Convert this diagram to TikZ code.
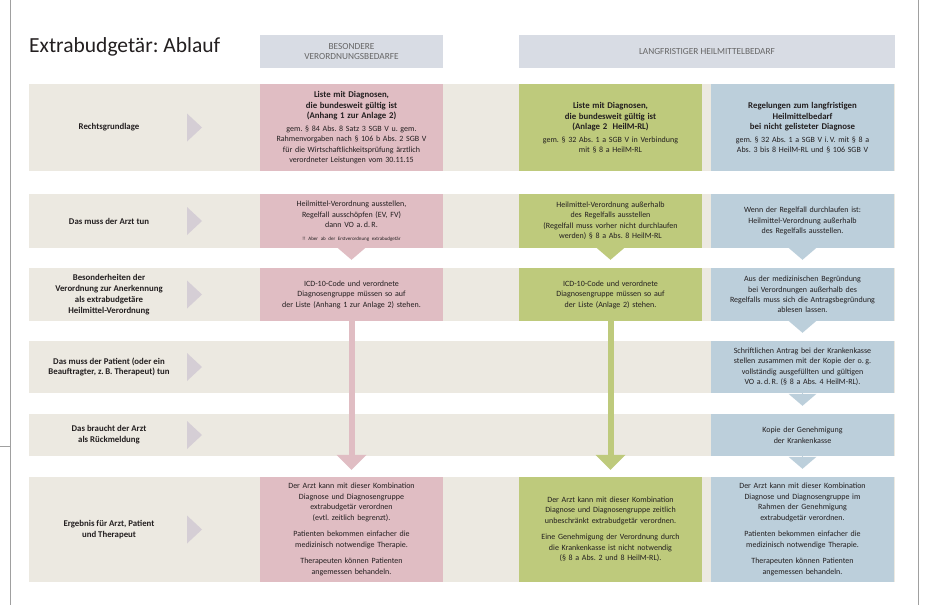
\documentclass[tikz,border=0pt]{standalone}
\usepackage{fontspec}
\setmainfont{Carlito}
\usetikzlibrary{arrows.meta,positioning,calc}

\definecolor{rosa}{RGB}{224,189,195}
\definecolor{gruen}{RGB}{190,202,124}
\definecolor{blau}{RGB}{188,207,219}
\definecolor{beige}{RGB}{236,233,225}
\definecolor{kopf}{RGB}{216,220,228}
\definecolor{zeiger}{RGB}{213,206,213}
\definecolor{rahmen}{RGB}{160,160,160}
\definecolor{schrift}{RGB}{35,31,32}

\newcommand{\fett}[1]{{\fontsize{8.8}{10.8}\selectfont\bfseries #1}}
\frenchspacing

\begin{document}
\begin{tikzpicture}[x=1pt, y=-1pt,
    band/.style={fill=beige, minimum width=866pt, inner sep=0pt},
    lbl/.style={align=center, text=schrift, font=\fontsize{8.8}{10.8}\selectfont\bfseries},
    cell/.style={minimum width=183pt, text width=178pt, inner sep=0pt, align=center, text=schrift, font=\fontsize{8}{10.5}\selectfont},
    head/.style={fill=kopf, minimum height=33pt, inner sep=0pt, align=center, text=black!60, font=\fontsize{9.3}{10.5}\selectfont},
    notch/.style={-{Triangle[width=28pt,length=12pt,line width=0pt]}, line width=0.1pt, shorten >=8pt},
    stem/.style={-{Triangle[width=30pt,length=15pt,line width=0pt]}, line width=6pt, shorten >=7pt}
]
\useasboundingbox (0,0) rectangle (926,605);

% Rahmen
\draw[rahmen, line width=0.8pt] (10,0) -- (10,605);
\draw[rahmen, line width=0.8pt] (918,0) -- (918,605);
\draw[rahmen, line width=0.8pt] (0,446) -- (10,446);

% Titel und Spaltenkoepfe
\node[anchor=west, inner sep=0pt, text=schrift, font=\fontsize{21.5}{24}\selectfont] (titel) at (29,47) {Extrabudgetär: Ablauf};
\node[head, minimum width=183pt] (h1) at (351.5,51.5) {BESONDERE\\VERORDNUNGSBEDARFE};
\node[head, minimum width=376pt] (h2) at (707,51.5) {LANGFRISTIGER HEILMITTELBEDARF};

% Zeilenbaender
\foreach \n/\y/\h in {1/127.5/87, 2/221/54, 3/294.5/53, 4/367/52, 5/435/42, 6/529.5/105} {
  \node[band, minimum height=\h] (r\n) at (462,\y) {};
  \fill[zeiger] (187,\y-14) -- (202,\y) -- (187,\y+14) -- cycle;
}

% Zeilentitel
\node[lbl] (l1) at (109,127.5) {Rechtsgrundlage};
\node[lbl] (l2) at (109,221) {Das muss der Arzt tun};
\node[lbl] (l3) at (109,294.5) {Besonderheiten der\\Verordnung zur Anerkennung\\als extrabudgetäre\\Heilmittel-Verordnung};
\node[lbl] (l4) at (109,367) {Das muss der Patient (oder ein\\Beauftragter, z.\,B. Therapeut) tun};
\node[lbl] (l5) at (109,435) {Das braucht der Arzt\\als Rückmeldung};
\node[lbl] (l6) at (109,529.5) {Ergebnis für Arzt, Patient\\und Therapeut};

% Besondere Verordnungsbedarfe
\node[cell, fill=rosa, minimum height=87] (p1) at (351.5,127.5) {\fett{Liste mit Diagnosen,\\die bundesweit gültig ist\\(Anhang 1 zur Anlage 2)}\\[2pt]gem. § 84 Abs. 8 Satz 3 SGB V u. gem.\\Rahmenvorgaben nach § 106 b Abs. 2 SGB V\\für die Wirtschaftlichkeitsprüfung ärztlich\\verordneter Leistungen vom 30.11.15};
\node[cell, fill=rosa, minimum height=54] (p2) at (351.5,221) {Heilmittel-Verordnung ausstellen,\\Regelfall ausschöpfen (EV, FV)\\dann VO a.\,d.\,R.\\[2pt]{\fontsize{5}{6}\selectfont !! Aber ab der Erstverordnung extrabudgetär}};
\node[cell, fill=rosa, minimum height=53] (p3) at (351.5,294.5) {ICD-10-Code und verordnete\\Diagnosengruppe müssen so auf\\der Liste (Anhang 1 zur Anlage 2) stehen.};
\node[cell, fill=rosa, minimum height=105] (p6) at (351.5,529.5) {Der Arzt kann mit dieser Kombination\\Diagnose und Diagnosengruppe\\extrabudgetär verordnen\\(evtl. zeitlich begrenzt).\\[6pt]Patienten bekommen einfacher die\\medizinisch notwendige Therapie.\\[6pt]Therapeuten können Patienten\\angemessen behandeln.};

% Langfristiger Heilmittelbedarf, gelistet
\node[cell, fill=gruen, minimum height=87] (g1) at (610.5,127.5) {\fett{Liste mit Diagnosen,\\die bundesweit gültig ist\\(Anlage 2 \ HeilM-RL)}\\[2pt]gem. § 32 Abs. 1 a SGB V in Verbindung\\mit § 8 a HeilM-RL};
\node[cell, fill=gruen, minimum height=54] (g2) at (610.5,221) {Heilmittel-Verordnung außerhalb\\des Regelfalls ausstellen\\(Regelfall muss vorher nicht durchlaufen\\werden) § 8 a Abs. 8 HeilM-RL};
\node[cell, fill=gruen, minimum height=53] (g3) at (610.5,294.5) {ICD-10-Code und verordnete\\Diagnosengruppe müssen so auf\\der Liste (Anlage 2) stehen.};
\node[cell, fill=gruen, minimum height=105] (g6) at (610.5,529.5) {Der Arzt kann mit dieser Kombination\\Diagnose und Diagnosengruppe zeitlich\\unbeschränkt extrabudgetär verordnen.\\[6pt]Eine Genehmigung der Verordnung durch\\die Krankenkasse ist nicht notwendig\\(§ 8 a Abs. 2 und 8 HeilM-RL).};

% Langfristiger Heilmittelbedarf, nicht gelistet
\node[cell, fill=blau, minimum height=87] (b1) at (802.5,127.5) {\fett{Regelungen zum langfristigen\\Heilmittelbedarf\\bei nicht gelisteter Diagnose}\\[2pt]gem. § 32 Abs. 1 a SGB V i.\,V. mit § 8 a\\Abs. 3 bis 8 HeilM-RL und § 106 SGB V};
\node[cell, fill=blau, minimum height=54] (b2) at (802.5,221) {Wenn der Regelfall durchlaufen ist:\\Heilmittel-Verordnung außerhalb\\des Regelfalls ausstellen.};
\node[cell, fill=blau, minimum height=53] (b3) at (802.5,294.5) {Aus der medizinischen Begründung\\bei Verordnungen außerhalb des\\Regelfalls muss sich die Antragsbegründung\\ablesen lassen.};
\node[cell, fill=blau, minimum height=52] (b4) at (802.5,367) {Schriftlichen Antrag bei der Krankenkasse\\stellen zusammen mit der Kopie der o.\,g.\\vollständig ausgefüllten und gültigen\\VO a.\,d.\,R. (§ 8 a Abs. 4 HeilM-RL).};
\node[cell, fill=blau, minimum height=42] (b5) at (802.5,435) {Kopie der Genehmigung\\der Krankenkasse};
\node[cell, fill=blau, minimum height=105] (b6) at (802.5,529.5) {Der Arzt kann mit dieser Kombination\\Diagnose und Diagnosengruppe im\\Rahmen der Genehmigung\\extrabudgetär verordnen.\\[6pt]Patienten bekommen einfacher die\\medizinisch notwendige Therapie.\\[6pt]Therapeuten können Patienten\\angemessen behandeln.};

% Pfeile
\draw[notch, rosa] (p2.south) -- (p3.north);
\draw[notch, gruen] (g2.south) -- (g3.north);
\draw[notch, blau] (b2.south) -- (b3.north);
\draw[notch, blau] (b3.south) -- (b4.north);
\draw[notch, blau] (b4.south) -- (b5.north);
\draw[notch, blau] (b5.south) -- (b6.north);
\draw[stem, rosa] (p3.south) -- (p6.north);
\draw[stem, gruen] (g3.south) -- (g6.north);
\end{tikzpicture}
\end{document}
